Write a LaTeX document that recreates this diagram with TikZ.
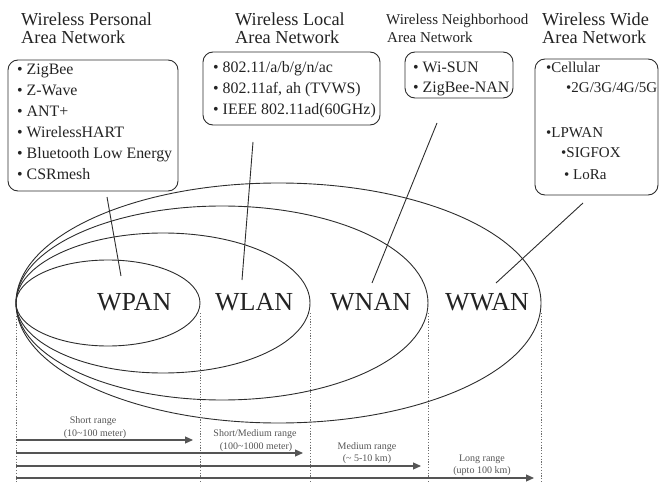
\documentclass[tikz,border=0pt]{standalone}
\usepackage{fontspec}
\setmainfont{Liberation Serif}
\usetikzlibrary{arrows.meta}
\definecolor{ink}{RGB}{35,35,35}
\definecolor{lineink}{RGB}{45,45,45}
\definecolor{rangeink}{RGB}{85,85,85}
\definecolor{dotink}{RGB}{110,110,110}
\tikzset{
  title/.style={anchor=base west,inner sep=0pt,text=ink,font=\fontsize{18.3}{19}\selectfont},
  titlesm/.style={anchor=base west,inner sep=0pt,text=ink,font=\fontsize{15}{16}\selectfont},
  item/.style={anchor=base west,inner sep=0pt,text=ink,font=\fontsize{15.9}{16}\selectfont},
  itemw/.style={anchor=base west,inner sep=0pt,text=ink,font=\fontsize{15}{16}\selectfont},
  netlabel/.style={anchor=base west,inner sep=0pt,text=ink,font=\fontsize{26}{28}\selectfont},
  rangelabel/.style={anchor=base,inner sep=0pt,text=rangeink,font=\fontsize{10}{11}\selectfont},
  listbox/.style={draw=lineink,line width=0.9pt,rounded corners=10pt},
  net/.style={draw=lineink,line width=0.9pt},
  conn/.style={draw=lineink,line width=0.9pt},
  guide/.style={draw=dotink,dash pattern=on 1.2pt off 1.6pt,line width=0.8pt},
  rangearrow/.style={draw=rangeink,line width=1.1pt,-{Triangle[length=8pt,width=7pt]}},
}
\begin{document}
\begin{tikzpicture}[x=1pt,y=-1pt]
\useasboundingbox (0,0) rectangle (659,484);

% titles
\node[title] (t1a) at (21,26) {Wireless Personal};
\node[title] (t1b) at (21,44) {Area Network};
\node[title] (t2a) at (235,26) {Wireless Local};
\node[title] (t2b) at (235,44) {Area Network};
\node[titlesm] (t3a) at (386,25) {Wireless Neighborhood};
\node[titlesm] (t3b) at (387,43) {Area Network};
\node[title] (t4a) at (542,26) {Wireless Wide};
\node[title] (t4b) at (542,44) {Area Network};

% boxes
\draw[listbox] (8,60) rectangle (178,191);
\draw[listbox] (203,52) rectangle (380,125);
\draw[listbox] (405,52) rectangle (513,98);
\draw[listbox] (535,59) rectangle (658,195);

% WPAN items
\node[item] (p1) at (17,75) {\textbullet\ ZigBee};
\node[item] (p2) at (17,96) {\textbullet\ Z-Wave};
\node[item] (p3) at (17,117) {\textbullet\ ANT+};
\node[item] (p4) at (17,138) {\textbullet\ WirelessHART};
\node[item] (p5) at (17,159) {\textbullet\ Bluetooth Low Energy};
\node[item] (p6) at (17,180) {\textbullet\ CSRmesh};

% WLAN items
\node[item] (l1) at (213,73) {\textbullet\ 802.11/a/b/g/n/ac};
\node[item] (l2) at (213,94) {\textbullet\ 802.11af, ah (TVWS)};
\node[item] (l3) at (213,115) {\textbullet\ IEEE 802.11ad(60GHz)};

% WNAN items
\node[item] (n1) at (413,73) {\textbullet\ Wi-SUN};
\node[item] (n2) at (413,93) {\textbullet\ ZigBee-NAN};

% WWAN items
\node[itemw] (w1) at (546,73) {\textbullet Cellular};
\node[itemw] (w2) at (566,93) {\textbullet 2G/3G/4G/5G};
\node[itemw] (w3) at (546,138) {\textbullet LPWAN};
\node[itemw] (w4) at (561,158) {\textbullet SIGFOX};
\node[itemw] (w5) at (564,180) {\textbullet\ LoRa};

% ellipses
\draw[net] (278.5,303) ellipse [x radius=262.5pt, y radius=120pt];
\draw[net] (222,303) ellipse [x radius=206pt, y radius=97pt];
\draw[net] (163,303) ellipse [x radius=147pt, y radius=70pt];
\draw[net] (108,303) ellipse [x radius=92pt, y radius=43pt];

% network labels
\node[netlabel] (wpan) at (97,310) {WPAN};
\node[netlabel] (wlan) at (215,310) {WLAN};
\node[netlabel] (wnan) at (330,310) {WNAN};
\node[netlabel] (wwan) at (445,310) {WWAN};

% connectors
\coordinate (c1s) at (107,197); \coordinate (c1e) at (121,276);
\coordinate (c2s) at (253,142); \coordinate (c2e) at (242,280);
\coordinate (c3s) at (437,123); \coordinate (c3e) at (372,283);
\coordinate (c4s) at (583,203); \coordinate (c4e) at (496,283);
\draw[conn] (c1s) -- (c1e);
\draw[conn] (c2s) -- (c2e);
\draw[conn] (c3s) -- (c3e);
\draw[conn] (c4s) -- (c4e);

% dotted guides
\coordinate (g0a) at (16,316); \coordinate (g0b) at (16,484);
\coordinate (g1a) at (200,313); \coordinate (g1b) at (200,484);
\coordinate (g2a) at (310,313); \coordinate (g2b) at (310,484);
\coordinate (g3a) at (428,313); \coordinate (g3b) at (428,484);
\coordinate (g4a) at (541,313); \coordinate (g4b) at (541,484);
\draw[guide] (g0a) -- (g0b);
\draw[guide] (g1a) -- (g1b);
\draw[guide] (g2a) -- (g2b);
\draw[guide] (g3a) -- (g3b);
\draw[guide] (g4a) -- (g4b);

% range arrows
\coordinate (a1s) at (16,440); \coordinate (a1e) at (193,440);
\coordinate (a2s) at (16,453); \coordinate (a2e) at (303,453);
\coordinate (a3s) at (16,466); \coordinate (a3e) at (421,466);
\coordinate (a4s) at (16,478); \coordinate (a4e) at (534,478);
\draw[rangearrow] (a1s) -- (a1e);
\draw[rangearrow] (a2s) -- (a2e);
\draw[rangearrow] (a3s) -- (a3e);
\draw[rangearrow] (a4s) -- (a4e);

% range labels
\node[rangelabel] (r1a) at (93,423) {Short range};
\node[rangelabel] (r1b) at (95,436) {(10\textasciitilde100 meter)};
\node[rangelabel] (r2a) at (255,436) {Short/Medium range};
\node[rangelabel] (r2b) at (256,449) {(100\textasciitilde1000 meter)};
\node[rangelabel] (r3a) at (367,449) {Medium range};
\node[rangelabel] (r3b) at (367,461) {(\textasciitilde\ 5-10 km)};
\node[rangelabel] (r4a) at (482,461) {Long range};
\node[rangelabel] (r4b) at (482,473) {(upto 100 km)};
\end{tikzpicture}
\end{document}
